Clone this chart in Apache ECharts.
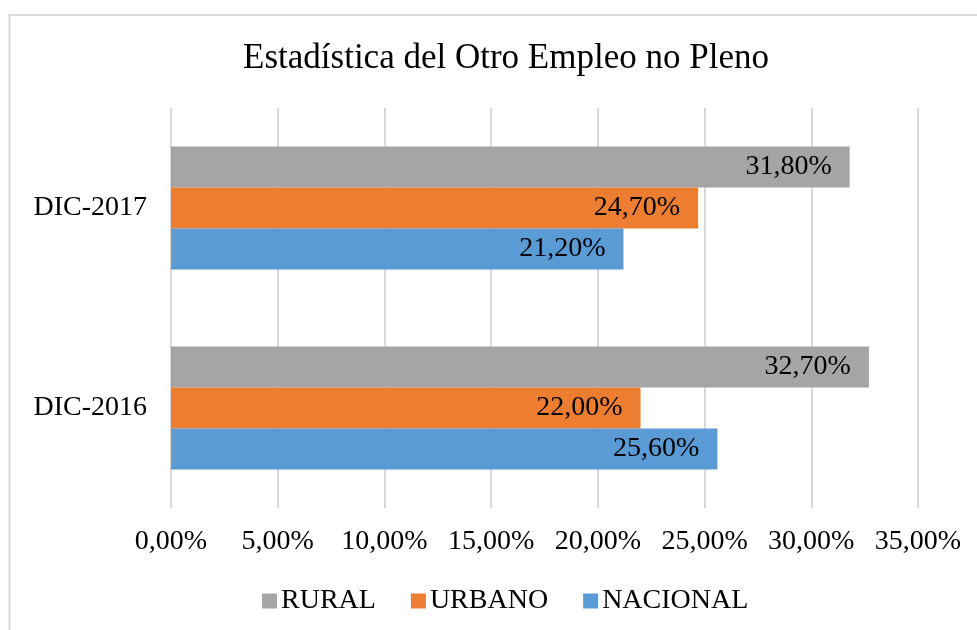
<!DOCTYPE html>
<html>
<head>
<meta charset="utf-8">
<title>Estadística del Otro Empleo no Pleno</title>
<script src="https://cdn.jsdelivr.net/npm/echarts@6/dist/echarts.min.js"></script>
<style>
  html, body { margin: 0; padding: 0; background: #ffffff; }
  #chart { width: 977px; height: 630px; }
</style>
</head>
<body>
<div id="chart"></div>
<script>
// Periods shown on the category axis (bottom to top)
const periods = ['DIC-2016', 'DIC-2017'];

// Share of "otro empleo no pleno", in percent, per period
const nacional = [25.6, 21.2];
const urbano = [22.0, 24.7];
const rural = [32.7, 31.8];

// Value axis range and step, in percent
const axisMin = 0;
const axisMax = 35;
const axisStep = 5;

// Legend order as listed under the chart
const legendOrder = ['RURAL', 'URBANO', 'NACIONAL'];

const FONT = '"Liberation Serif", "Times New Roman", serif';
const pct = v => v.toFixed(2).replace('.', ',') + '%';

const chart = echarts.init(document.getElementById('chart'), null, { renderer: 'canvas' });

function barSeries(name, data, color) {
  return {
    name: name,
    type: 'bar',
    data: data,
    barGap: '0%',
    barCategoryGap: '38.5%',
    itemStyle: { color: color },
    label: {
      show: true,
      position: 'insideRight',
      distance: 18,
      color: '#000000',
      fontFamily: FONT,
      fontSize: 28,
      formatter: p => pct(p.value)
    },
    emphasis: { disabled: true }
  };
}

chart.setOption({
  backgroundColor: '#ffffff',
  animation: false,
  textStyle: { fontFamily: FONT },
  graphic: [{
    type: 'rect',
    shape: { x: 9.5, y: 15, width: 1000, height: 700 },
    style: { fill: 'none', stroke: '#d9d9d9', lineWidth: 2 },
    silent: true
  }],
  title: {
    text: 'Estadística del Otro Empleo no Pleno',
    left: 501,
    top: 36,
    textAlign: 'center',
    textStyle: { fontFamily: FONT, fontSize: 35, fontWeight: 'normal', color: '#000000' }
  },
  legend: {
    data: legendOrder,
    left: 257,
    top: 582,
    icon: 'rect',
    itemWidth: 15,
    itemHeight: 15,
    itemGap: 35,
    textStyle: { fontFamily: FONT, fontSize: 28, color: '#000000', padding: [0, 0, 0, -1] }
  },
  grid: { left: 171, right: 59, top: 108, bottom: 122, containLabel: false },
  xAxis: {
    type: 'value',
    min: axisMin,
    max: axisMax,
    interval: axisStep,
    axisLine: { show: false },
    axisTick: { show: false },
    splitLine: { show: true, lineStyle: { color: '#d9d9d9', width: 2 } },
    axisLabel: {
      margin: 20,
      color: '#000000',
      fontFamily: FONT,
      fontSize: 28,
      formatter: v => pct(v)
    }
  },
  yAxis: {
    type: 'category',
    data: periods,
    axisLine: { show: false },
    axisTick: { show: false },
    splitLine: { show: false },
    axisLabel: { margin: 24, color: '#000000', fontFamily: FONT, fontSize: 28 }
  },
  // Within each period the bars stack top to bottom: RURAL, URBANO, NACIONAL
  series: [
    barSeries('RURAL', rural, '#a5a5a5'),
    barSeries('URBANO', urbano, '#ed7d31'),
    barSeries('NACIONAL', nacional, '#5b9bd5')
  ]
});
</script>
</body>
</html>
